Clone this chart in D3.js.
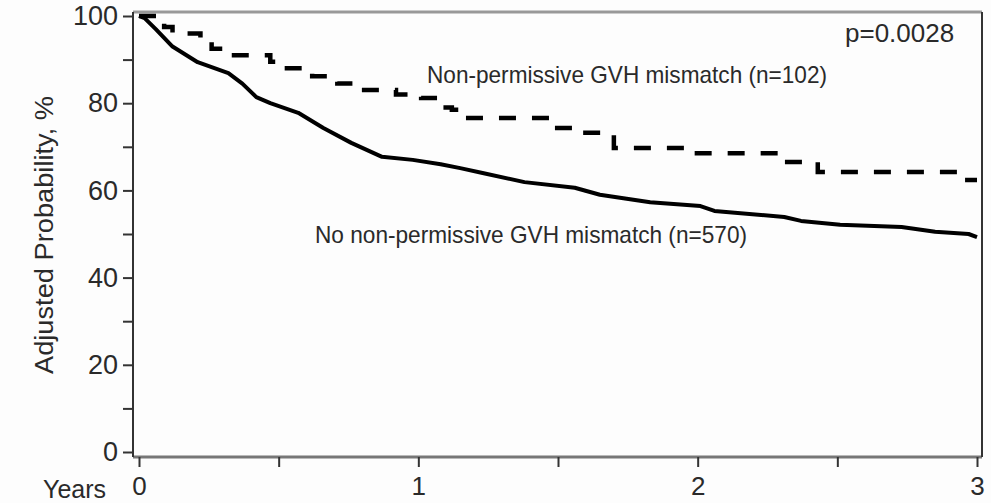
<!DOCTYPE html>
<html>
<head>
<meta charset="utf-8">
<script src="https://cdn.jsdelivr.net/npm/d3@7"></script>
<style>
  html, body { margin: 0; padding: 0; background: #fdfdfd; }
  svg { display: block; font-family: "Liberation Sans", Arial, sans-serif; }
</style>
</head>
<body>
<div id="chart"></div>
<script>
// years / adjusted probability (%)
const solidYears  = [0, 0.02, 0.06, 0.12, 0.21, 0.32, 0.37, 0.42, 0.47, 0.57, 0.66, 0.76, 0.87, 0.98, 1.08, 1.15, 1.23, 1.38, 1.56, 1.65, 1.83, 2.01, 2.06, 2.31, 2.37, 2.51, 2.73, 2.85, 2.97, 3.0];
const solidValues = [100, 99.5, 97, 93, 89.4, 86.9, 84.5, 81.4, 80.0, 77.8, 74.3, 70.9, 67.7, 67.0, 66.0, 65.1, 64.0, 61.9, 60.6, 59.0, 57.3, 56.4, 55.3, 53.9, 53.0, 52.1, 51.6, 50.5, 50.0, 49.3];

const dashedYears  = [0, 0.09, 0.12, 0.22, 0.26, 0.29, 0.47, 0.52, 0.62, 0.71, 0.79, 0.92, 1.01, 1.08, 1.12, 1.17, 1.47, 1.56, 1.70, 1.96, 2.29, 2.43, 2.92, 3.0];
const dashedValues = [100, 97.5, 96, 95, 92.5, 91, 89.5, 88, 86.2, 84.5, 83, 82, 81.2, 79, 78.5, 76.6, 74.3, 73.2, 69.7, 68.5, 66.5, 64.2, 62.4, 62.4];

const xTicks = [0, 0.5, 1, 1.5, 2, 2.5, 3];
const xTickLabels = ["0", "", "1", "", "2", "", "3"];
const yTicks = [0, 10, 20, 30, 40, 50, 60, 70, 80, 90, 100];
const yTickLabels = ["0", "", "20", "", "40", "", "60", "", "80", "", "100"];

const labelNonPerm = "Non-permissive GVH mismatch (n=102)";
const labelNoNonPerm = "No non-permissive GVH mismatch (n=570)";
const pValue = "p=0.0028";

const width = 991;
const height = 503;

const svg = d3.select("#chart").append("svg")
    .attr("width", width)
    .attr("height", height);

const x = d3.scaleLinear().domain([0, 3]).range([139, 977]);
const y = d3.scaleLinear().domain([0, 100]).range([452, 16]);

// frame
const frame = { left: 133, top: 12, right: 982, bottom: 457 };
svg.append("line")
    .attr("x1", frame.left).attr("x2", frame.right)
    .attr("y1", frame.top).attr("y2", frame.top)
    .attr("stroke", "#999").attr("stroke-width", 3);
svg.append("line")
    .attr("x1", frame.left).attr("x2", frame.right)
    .attr("y1", frame.bottom).attr("y2", frame.bottom)
    .attr("stroke", "#777").attr("stroke-width", 3);
svg.append("line")
    .attr("x1", frame.left).attr("x2", frame.left)
    .attr("y1", frame.top).attr("y2", frame.bottom)
    .attr("stroke", "#333").attr("stroke-width", 2);
svg.append("line")
    .attr("x1", frame.right).attr("x2", frame.right)
    .attr("y1", frame.top).attr("y2", frame.bottom)
    .attr("stroke", "#333").attr("stroke-width", 2);

// x axis
const xAxis = d3.axisBottom(x)
    .tickValues(xTicks)
    .tickSize(10)
    .tickPadding(10)
    .tickFormat((d, i) => xTickLabels[i]);

svg.append("g")
    .attr("transform", `translate(0,${frame.bottom})`)
    .call(xAxis)
    .call(g => g.select(".domain").remove())
    .call(g => g.selectAll("line").attr("stroke", "#333").attr("stroke-width", 2))
    .call(g => g.selectAll("text")
        .attr("fill", "#2a2a2a")
        .style("font-size", "26px")
        .style("font-family", "'Liberation Sans', Arial, sans-serif"));

// y axis
const yAxis = d3.axisLeft(y)
    .tickValues(yTicks)
    .tickSize(10)
    .tickPadding(5)
    .tickFormat((d, i) => yTickLabels[i]);

svg.append("g")
    .attr("transform", `translate(${frame.left},0)`)
    .call(yAxis)
    .call(g => g.select(".domain").remove())
    .call(g => g.selectAll("line").attr("stroke", "#333").attr("stroke-width", 2))
    .call(g => g.selectAll("text")
        .attr("fill", "#2a2a2a")
        .style("font-size", "27px")
        .style("font-family", "'Liberation Sans', Arial, sans-serif"));

// axis titles
svg.append("text")
    .attr("x", 43).attr("y", 498)
    .attr("fill", "#2a2a2a")
    .style("font-size", "25px")
    .text("Years");

svg.append("text")
    .attr("transform", "translate(53,235) rotate(-90)")
    .attr("text-anchor", "middle")
    .attr("fill", "#2a2a2a")
    .style("font-size", "25px")
    .attr("textLength", 278)
    .attr("lengthAdjust", "spacingAndGlyphs")
    .text("Adjusted Probability, %");

// curves
const solidData = solidYears.map((d, i) => ({ t: d, v: solidValues[i] }));
const dashedData = dashedYears.map((d, i) => ({ t: d, v: dashedValues[i] }));

const solidLine = d3.line()
    .x(d => x(d.t))
    .y(d => y(d.v));

const dashedLine = d3.line()
    .x(d => x(d.t))
    .y(d => y(d.v))
    .curve(d3.curveStepAfter);

svg.append("path")
    .datum(dashedData)
    .attr("d", dashedLine)
    .attr("fill", "none")
    .attr("stroke", "#000")
    .attr("stroke-width", 4.5)
    .attr("stroke-dasharray", "17,16");

svg.append("path")
    .datum(solidData)
    .attr("d", solidLine)
    .attr("fill", "none")
    .attr("stroke", "#000")
    .attr("stroke-width", 4)
    .attr("stroke-linejoin", "round");

// annotations
svg.append("text")
    .attr("x", 845).attr("y", 42)
    .attr("fill", "#2a2a2a")
    .style("font-size", "26px")
    .text(pValue);

svg.append("text")
    .attr("x", 427).attr("y", 83)
    .attr("fill", "#2a2a2a")
    .style("font-size", "24px")
    .attr("textLength", 400)
    .attr("lengthAdjust", "spacingAndGlyphs")
    .text(labelNonPerm);

svg.append("text")
    .attr("x", 315).attr("y", 243)
    .attr("fill", "#2a2a2a")
    .style("font-size", "24px")
    .attr("textLength", 432)
    .attr("lengthAdjust", "spacingAndGlyphs")
    .text(labelNoNonPerm);
</script>
</body>
</html>
